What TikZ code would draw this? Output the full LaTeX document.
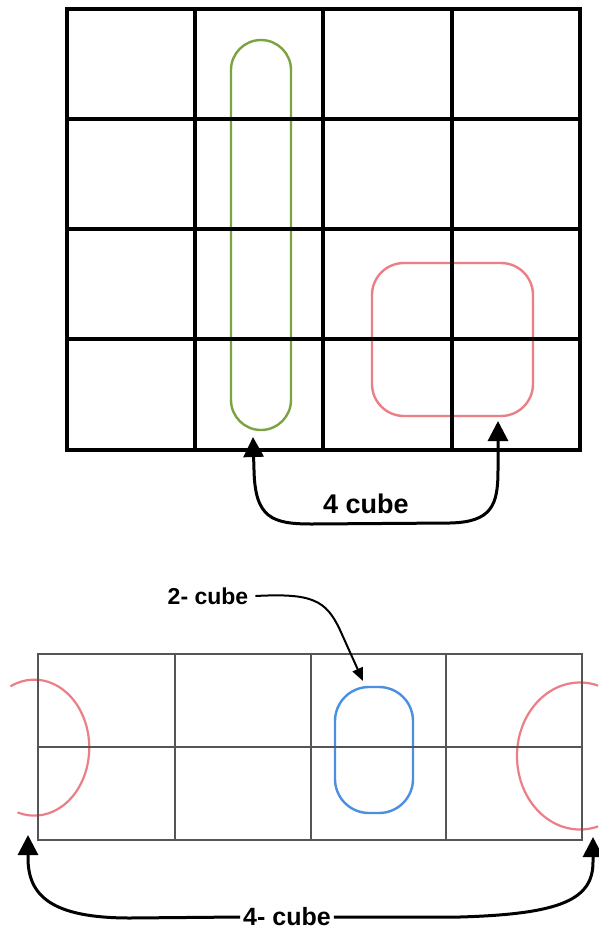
\documentclass[tikz,border=0pt]{standalone}
\usepackage{fontspec}
\setmainfont{Liberation Sans}
\usetikzlibrary{arrows.meta}
\definecolor{gridgray}{HTML}{555555}
\definecolor{loopgreen}{HTML}{7BA440}
\definecolor{loopred}{HTML}{EC7F86}
\definecolor{loopblue}{HTML}{4A8FE2}
\begin{document}
\begin{tikzpicture}[x=1pt,y=-1pt,
  topgrid/.style={line width=3.5pt, black, line join=miter},
  botgrid/.style={line width=1.3pt, gridgray},
  loopbox/.style={draw, line width=2.4pt, inner sep=0pt, outer sep=0pt},
  redarc/.style={line width=2.2pt, loopred, line cap=round},
  bigarrow/.style={line width=3pt, black, -{Triangle[length=20pt,width=20pt]}},
  smallarrow/.style={line width=2pt, black, -{Triangle[length=13pt,width=11pt]}},
  lbl/.style={font=\bfseries, inner xsep=7pt, inner ysep=0pt}
]
\useasboundingbox (0,0) rectangle (598,932);
\fill[white] (0,0) rectangle (598,932);

% ---- loops (top) ----
\node[loopbox, draw=loopgreen, minimum width=60pt, minimum height=390pt, rounded corners=30pt] (green) at (261,235) {};
\node[loopbox, draw=loopred, minimum width=161pt, minimum height=153pt, rounded corners=32pt] (redtop) at (452.5,339.5) {};

% ---- top grid ----
\draw[topgrid] (67,9) rectangle (580,450);
\foreach \xx in {195,323,452} \draw[topgrid] (\xx,9) -- (\xx,450);
\foreach \yy in {119,229,339} \draw[topgrid] (67,\yy) -- (580,\yy);

% ---- loops (bottom) ----
\node[loopbox, draw=loopblue, minimum width=78pt, minimum height=126pt, rounded corners=34pt] (blue) at (374,750) {};
\draw[redarc] (11,686) arc[start angle=245, end angle=467, x radius=55, y radius=68];
\begin{scope}
  \clip (0,0) rectangle (598,932);
  \draw[redarc] (580,756) ellipse[x radius=63, y radius=73.5];
\end{scope}

% ---- bottom grid ----
\draw[botgrid] (38,654) rectangle (582,840);
\foreach \xx in {175,311,446} \draw[botgrid] (\xx,654) -- (\xx,840);
\draw[botgrid] (38,747) -- (582,747);

% ---- labels ----
\node[lbl, font=\bfseries\fontsize{27}{30}\selectfont] (cube4top) at (366,504) {4 cube};
\node[lbl, font=\bfseries\fontsize{23}{26}\selectfont] (cube2) at (208,596) {2- cube};
\node[lbl, inner xsep=3pt, font=\bfseries\fontsize{25}{28}\selectfont] (cube4bot) at (287,917) {4- cube};

% ---- arrow end points ----
\coordinate (gtip) at (253,437);
\coordinate (rtip) at (498,421);
\coordinate (btip) at (363,681);
\coordinate (ltip) at (28,835);
\coordinate (rbtip) at (593,837);

% ---- connectors ----
\draw[bigarrow, {Triangle[length=20pt,width=20pt]}-{Triangle[length=20pt,width=20pt]}]
  (gtip) -- (254,470) .. controls (255,518) and (272,524) .. (312,524)
  -- (450,523) .. controls (492,522) and (498,505) .. (498,470) -- (rtip);
\draw[smallarrow] (cube2.east) .. controls (312,593) and (326,600) .. (340,630) -- (btip);
\draw[bigarrow] (cube4bot.west) -- (130,918) .. controls (52,918) and (28,896) .. (28,858) -- (ltip);
\draw[bigarrow] (cube4bot.east) -- (460,917) .. controls (560,914) and (593,900) .. (593,862) -- (rbtip);
\end{tikzpicture}
\end{document}
